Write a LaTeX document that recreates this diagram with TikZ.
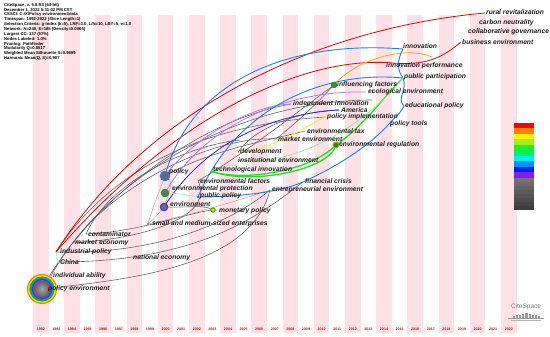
\documentclass[tikz,border=0pt]{standalone}
\usepackage{fontspec}
\setmainfont{Liberation Sans}
\begin{document}
\begin{tikzpicture}[x=1pt,y=-1pt,
  lab/.style={anchor=west,inner sep=0pt,text=black!88,font=\fontsize{6.7}{7.2}\selectfont\bfseries\itshape},
  yrlab/.style={inner sep=0pt,text=red!85!black,font=\fontsize{3.6}{3.8}\selectfont\bfseries},
  ered/.style={draw=red!90!black,line width=0.8pt},
  eorange/.style={draw=orange!70!yellow,line width=0.8pt},
  eblue/.style={draw=cAzure,line width=0.9pt},
  edblue/.style={draw=cNavy,line width=0.8pt},
  epurple/.style={draw=cLav,line width=0.8pt},
  egreen/.style={draw=cGreen,line width=1.3pt},
  elgreen/.style={draw=cLGreen,line width=0.7pt},
  eyellow/.style={draw=cYel,line width=0.8pt},
  egray/.style={draw=black!60,line width=0.6pt},
  elgray/.style={draw=black!35,line width=0.45pt},
  ecyan/.style={draw=cCyan,line width=0.6pt},
  dotnode/.style={circle,inner sep=0pt,minimum size=#1},
]
\definecolor{cPink}{HTML}{FFE1E7}
\definecolor{cAzure}{HTML}{1C7FF0}
\definecolor{cNavy}{HTML}{2828D8}
\definecolor{cLav}{HTML}{B27CEB}
\definecolor{cGreen}{HTML}{1EE01E}
\definecolor{cLGreen}{HTML}{96E596}
\definecolor{cYel}{HTML}{F2EE2A}
\definecolor{cCyan}{HTML}{7FF0E0}
\definecolor{cNodeGray}{HTML}{6A6A78}

\useasboundingbox (0,0) rectangle (550,337);
\fill[white] (0,0) rectangle (550,337);

% year stripes
\foreach \k in {0,2,...,30}{
  \fill[cPink] ({33+15.6*\k},15) rectangle ({48.6+15.6*\k},333);
}
% year labels
\foreach \k in {0,...,30}{
  \pgfmathtruncatemacro{\yr}{1992+\k}
  \node[yrlab] (y\yr) at ({40.8+15.6*\k},329) {\yr};
}

% header
\node[anchor=north west,inner sep=0pt,align=left,text=black,
  font=\fontsize{4.2}{4.85}\selectfont\bfseries] (hdr) at (4,3) {%
CiteSpace, v. 5.8.R3 (64-bit)\\
December 1, 2022 5:31:02 PM CST\\
CSSCI: C:{\textbackslash}X{\textbackslash}Policy environment{\textbackslash}data\\
Timespan: 1992-2022 (Slice Length=1)\\
Selection Criteria: g-index (k=5), LRF=3.0, L/N=10, LBY=5, e=1.0\\
Network: N=240, E=185 (Density=0.0065)\\
Largest CC: 137 (57\%)\\
Nodes Labeled: 1.0\%\\
Pruning: Pathfinder\\
Modularity Q=0.8517\\
Weighted Mean Silhouette S=0.9699\\
Harmonic Mean(Q, S)=0.907};

% node points
\coordinate (pPE) at (42,289);
\coordinate (pIA) at (51,276);
\coordinate (pCH) at (58,262);
\coordinate (pIP) at (56,252);
\coordinate (pME) at (73,243);
\coordinate (pCO) at (86,234);
\coordinate (pNE) at (131,258);
\coordinate (pSME) at (148,224);
\coordinate (pENV) at (164,207);
\coordinate (pEPR) at (165,193);
\coordinate (pPOL) at (165,176);
\coordinate (pPUB) at (198,197);
\coordinate (pMON) at (213,210);
\coordinate (pEF) at (198,181);
\coordinate (pTI) at (211,171);
\coordinate (pIE) at (236,160);
\coordinate (pDEV) at (238,153);
\coordinate (pEE) at (270,190);
\coordinate (pFC) at (303,182);
\coordinate (pMEN) at (276,139);
\coordinate (pET) at (305,131);
\coordinate (pERG) at (336,145);
\coordinate (pPT) at (389,124);
\coordinate (pPIM) at (325,117);
\coordinate (pAM) at (339,110);
\coordinate (pII) at (291,104);
\coordinate (pEDU) at (404,106);
\coordinate (pECO) at (366,92);
\coordinate (pINF) at (334,85);
\coordinate (pPP) at (403,78);
\coordinate (pIPF) at (384,66);
\coordinate (pINN) at (403,49);
\coordinate (pBE) at (461,42);
\coordinate (pCG) at (467,32);
\coordinate (pCN) at (478,23);
\coordinate (pRR) at (485,13);
\coordinate (pOR) at (432,57);
\coordinate (pR2) at (393,63);
\coordinate (pGA) at (372,100);
\coordinate (pGB) at (240,140);

% gray edges
\draw[egray] (pPE) .. controls (90,200) and (200,120) .. (pII);
\draw[egray] (pIA) .. controls (100,185) and (230,100) .. (pGA);
\draw[egray] (pIP) .. controls (110,170) and (200,125) .. (pPIM);
\draw[egray] (pCH) .. controls (200,262) and (260,215) .. (pFC);
\draw[egray] (pIP) .. controls (170,255) and (240,215) .. (pEE);
\draw[egray] (pME) .. controls (150,238) and (215,215) .. (pEF);
\draw[egray] (pCO) .. controls (140,232) and (190,212) .. (pMON);
\draw[egray] (pPE) .. controls (120,280) and (250,270) .. (pEE);
\draw[egray] (pCO) .. controls (110,180) and (190,145) .. (pGB);
\draw[egray] (pME) .. controls (110,190) and (210,135) .. (pMEN);
\draw[egray] (pPOL) .. controls (210,150) and (270,140) .. (pET);
\draw[egray] (pMEN) .. controls (300,120) and (320,100) .. (pINF);
\draw[egray] (pEF) .. controls (250,150) and (300,110) .. (pINF);
\draw[egray] (pENV) .. controls (185,208) and (205,204) .. (pMON);
\draw[egray] (pDEV) .. controls (250,130) and (300,110) .. (pAM);
\draw[elgray] (pSME) .. controls (155,200) and (160,190) .. (pPOL);
\draw[elgray] (pSME) .. controls (158,215) and (160,212) .. (pENV);
\draw[elgray] (pSME) .. controls (190,215) and (240,200) .. (pEE);
\draw[elgray] (pENV) .. controls (170,190) and (175,180) .. (pPOL);

% red edges
\draw[ered] (pIP) .. controls (140,120) and (300,30) .. (pRR);
\draw[ered] (pIP) .. controls (170,120) and (300,55) .. (pR2) .. controls (430,66) and (445,55) .. (pBE);

% orange
\draw[eorange] (pINF) .. controls (355,60) and (405,45) .. (pOR);

% purple / navy
\draw[epurple] (pEPR) .. controls (200,130) and (280,90) .. (pECO);
\draw[epurple] (pPOL) .. controls (195,135) and (255,105) .. (pII);
\draw[edblue] (pENV) .. controls (200,150) and (260,115) .. (pAM);

% blue
\draw[eblue] (pPOL) .. controls (190,80) and (290,40) .. (pINN);
\draw[eblue] (pPUB) .. controls (235,110) and (320,70) .. (pPP);
\draw[eblue] (pINN) .. controls (397,60) and (397,70) .. (pPP) .. controls (408,90) and (396,98) .. (pEDU) .. controls (400,114) and (394,118) .. (pPT);
\draw[eblue] (pPUB) .. controls (240,197) and (280,192) .. (pFC) .. controls (340,165) and (370,145) .. (pPT);

% green / yellow
\draw[egreen] (pTI) .. controls (240,182) and (310,172) .. (pERG);
\draw[egreen] (pTI) .. controls (250,186) and (330,170) .. (pERG) .. controls (365,125) and (385,95) .. (pPP);
\draw[elgreen] (pIE) .. controls (300,168) and (370,120) .. (pPP);
\draw[eyellow] (pDEV) .. controls (270,150) and (300,130) .. (pPIM);
\draw[ecyan] (pEPR) .. controls (180,193) and (190,196) .. (pPUB);
\draw[ecyan] (pIP) -- (pCH);

% nodes (circles)
\foreach \r/\c in {15/orange!75!brown,13.8/yellow!85!orange,12.6/green!75!black,11.4/cyan!80!blue,10.2/blue!80,9/violet!75,8/black!60}{
  \fill[\c] (pPE) circle (\r);
}
\shade[inner color=black!35,outer color=black!60] (pPE) circle (7.5);
\node[dotnode=9.5pt,fill=cNodeGray,draw=cAzure,line width=1pt] (nPOL) at (pPOL) {};
\node[dotnode=7.5pt,fill=cNodeGray,draw=green!70!black,line width=1pt] (nEPR) at (pEPR) {};
\node[dotnode=7.5pt,fill=cNodeGray,draw=blue!80,line width=1pt] (nENV) at (pENV) {};
\node[dotnode=4.5pt,fill=yellow!70!orange,draw=green!60!black,line width=0.8pt] (nMON) at (pMON) {};
\node[dotnode=2.5pt,fill=cAzure] (nPUB) at (pPUB) {};
\node[dotnode=2.5pt,fill=violet!60] (nSME) at (pSME) {};
\node[dotnode=5.5pt,fill=cNodeGray,draw=green!70!black,line width=0.9pt] (nINF) at (pINF) {};
\node[dotnode=6pt,fill=green!60!black,draw=orange,line width=0.9pt] (nERG) at (pERG) {};
\node[dotnode=2pt,fill=cCyan] (nCH) at (pCH) {};

% labels
\node[lab] (lRR) at (486,12) {rural revitalization};
\node[lab] (lCN) at (479,23) {carbon neutrality};
\node[lab] (lCG) at (468,32) {collaborative governance};
\node[lab] (lBE) at (462,42) {business environment};
\node[lab] (lINN) at (403,46) {innovation};
\node[lab] (lIPF) at (386,66) {innovation performance};
\node[lab] (lPP) at (404,77) {public participation};
\node[lab] (lINF) at (337,85) {influencing factors};
\node[lab] (lECO) at (368,92) {ecological environment};
\node[lab] (lII) at (293,104) {independent innovation};
\node[lab] (lEDU) at (405,106) {educational policy};
\node[lab] (lAM) at (341,110) {America};
\node[lab] (lPIM) at (327,117) {policy implementation};
\node[lab] (lPT) at (390,124) {policy tools};
\node[lab] (lET) at (307,131) {environmental tax};
\node[lab] (lMEN) at (278,139) {market environment};
\node[lab] (lERG) at (339,145) {environmental regulation};
\node[lab] (lDEV) at (240,152) {development};
\node[lab] (lIE) at (238,160) {institutional environment};
\node[lab] (lTI) at (213,170) {technological innovation};
\node[lab] (lPOL) at (169,172) {policy};
\node[lab] (lEF) at (200,181) {environmental factors};
\node[lab] (lFC) at (305,181) {financial crisis};
\node[lab] (lEPR) at (172,189) {environmental protection};
\node[lab] (lEE) at (272,190) {entrepreneurial environment};
\node[lab] (lPUB) at (200,196) {public policy};
\node[lab] (lENV) at (170,204) {environment};
\node[lab] (lMON) at (219,211) {monetary policy};
\node[lab] (lSME) at (152,224) {small and medium-sized enterprises};
\node[lab] (lCO) at (88,234) {contaminator};
\node[lab] (lME) at (75,243) {market economy};
\node[lab] (lIP) at (60,252) {industrial policy};
\node[lab] (lNE) at (133,258) {national economy};
\node[lab] (lCH) at (60,262) {China};
\node[lab] (lIA) at (53,276) {individual ability};
\node[lab] (lPE) at (48,289) {policy environment};

% legend bar
\foreach \i/\c in {0/FF0000,1/FF8000,2/FFF000,3/A0F020,4/20F020,5/00F060,6/00F0F0,7/0090FF,8/0020F0,9/8020F0}{
  \definecolor{tmpc}{HTML}{\c}
  \fill[tmpc] (514,{123+5.5*\i}) rectangle (534,{128.5+5.5*\i});
}
\foreach \i in {0,...,7}{
  \pgfmathsetmacro{\g}{55+3*\i}
  \fill[black!\g] (514,{178+4*\i}) rectangle (534,{182+4*\i});
}

% logo
\node[inner sep=0pt,text=black!50,font=\fontsize{6.5}{7}\selectfont] (logo) at (526,307) {CiteSpace};
\foreach \i/\h in {0/1.5,1/2.5,2/3,3/3.8,4/4.2,5/3.8,6/3,7/2.5,8/1.5}{
  \fill[black!40] ({512.5+3.2*\i},317.5) rectangle ({514.7+3.2*\i},{317.5-\h});
}
\draw[black!40,line width=0.5pt] (508,318.5) -- (544,318.5);
\draw[black!30,line width=0.4pt] (511,320) -- (541,320);
\end{tikzpicture}
\end{document}
